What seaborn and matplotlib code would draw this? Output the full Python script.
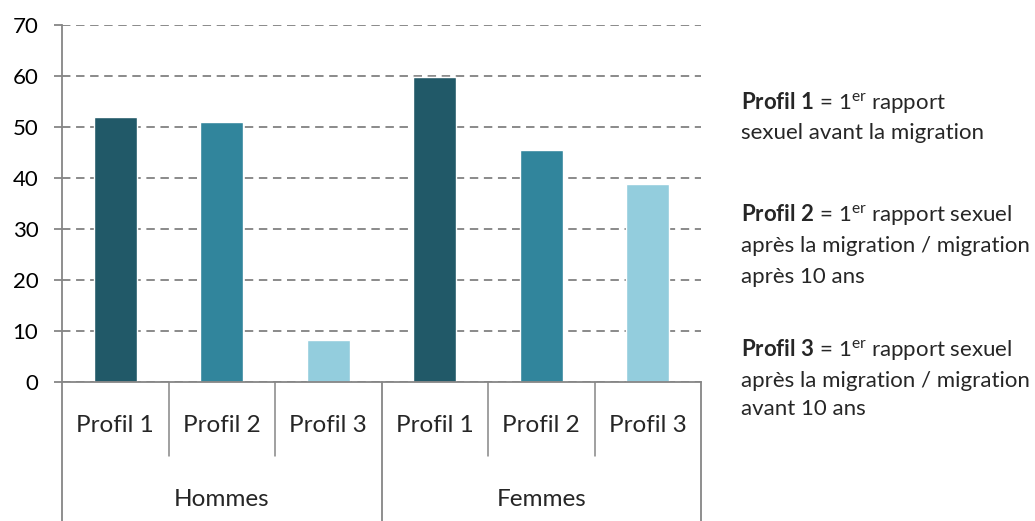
import pandas as pd
import seaborn as sb
import matplotlib.pyplot as plt

# data
groups = ["Hommes", "Femmes"]
profils = ["Profil 1", "Profil 2", "Profil 3"]
hommes = [52.0, 51.0, 8.2]
femmes = [59.9, 45.5, 38.9]
colors = ["#215968", "#31859C", "#93CDDD"]

notes = [
    [r"$\mathbf{Profil\ 1}$ = 1$^{\mathrm{er}}$ rapport", "sexuel avant la migration"],
    [r"$\mathbf{Profil\ 2}$ = 1$^{\mathrm{er}}$ rapport sexuel", "après la migration / migration", "après 10 ans"],
    [r"$\mathbf{Profil\ 3}$ = 1$^{\mathrm{er}}$ rapport sexuel", "après la migration / migration", "avant 10 ans"],
]

sb.set_style("white")
plt.rcParams['font.family'] = ['Lato', 'DejaVu Sans']
plt.rcParams['mathtext.fontset'] = 'custom'
plt.rcParams['mathtext.rm'] = 'Lato'
plt.rcParams['mathtext.bf'] = 'Lato:bold'
plt.rcParams['mathtext.it'] = 'Lato:italic'

GRAY = "#868686"
AX_H = 357  # axes height in px

df = pd.DataFrame({
    'slot': [g + " " + p for g in groups for p in profils],
    'profil': profils * len(groups),
    'value': hommes + femmes,
})

fig = plt.figure(figsize=(10.35, 5.21), dpi=100)
ax = fig.add_axes([62 / 1035, 1 - 382 / 521, (701 - 62) / 1035, AX_H / 521])

sb.barplot(data=df, x='slot', y='value', hue='profil', palette=colors,
           dodge=False, width=0.4, legend=False, ax=ax, saturation=1)

ax.set_ylim(0, 70)
ax.set_xlim(-0.5, 5.5)
ax.set_yticks(range(0, 71, 10))
ax.set_xticks([])
ax.set_xlabel("")
ax.set_ylabel("")

ax.yaxis.grid(True, color=GRAY, linestyle=(0, (4.5, 3)), linewidth=1.35)
ax.set_axisbelow(True)
for s in ['top', 'right']:
    ax.spines[s].set_visible(False)
for s in ['left', 'bottom']:
    ax.spines[s].set_color(GRAY)
    ax.spines[s].set_linewidth(1.3)

ax.tick_params(axis='y', length=6, width=1.3, color=GRAY, pad=11,
               labelsize=16, labelcolor='black', left=True)

# category labels and separators below the axis
tr = ax.get_xaxis_transform()
for i, p in enumerate(profils * 2):
    ax.text(i, -44 / AX_H, p, transform=tr, ha='center', va='center', fontsize=17.5)
for x in [0.5, 1.5, 3.5, 4.5]:
    ax.plot([x, x], [0, -74 / AX_H], transform=tr, color=GRAY, lw=1.1, clip_on=False)
for x in [-0.5, 2.5, 5.5]:
    ax.plot([x, x], [0, -0.4], transform=tr, color=GRAY, lw=1.3, clip_on=False)
for i, g in enumerate(groups):
    ax.text(1 + 3 * i, -117 / AX_H, g, transform=tr, ha='center', va='center', fontsize=17.5)

# explanation text on the right
ys = [[103, 133], [214, 246, 277], [350, 381, 409]]
for lines, yy in zip(notes, ys):
    for line, y in zip(lines, yy):
        fig.text(741 / 1035, 1 - y / 521, line, ha='left', va='center', fontsize=16)

plt.savefig('out.png', dpi=100)
plt.close()
